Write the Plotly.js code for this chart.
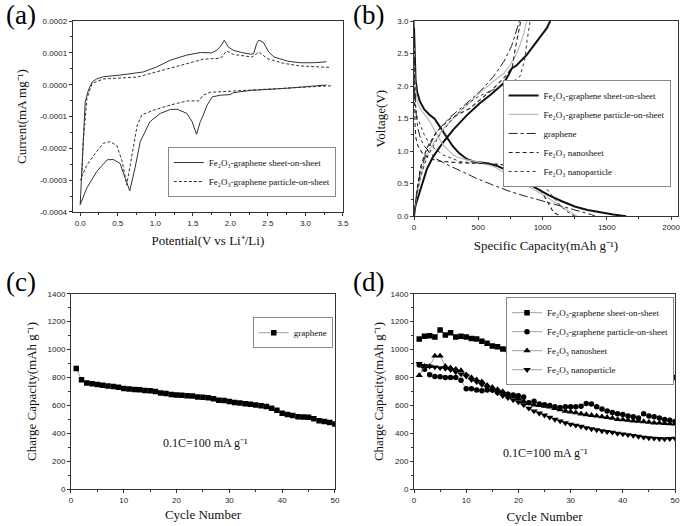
<!DOCTYPE html>
<html>
<head>
<meta charset="utf-8">
<script src="https://cdn.plot.ly/plotly-3.0.1.min.js"></script>
<style>html,body{margin:0;padding:0;background:#fff;overflow:hidden;}#chart{width:685px;height:526px;}</style>
</head>
<body>
<div id="chart"></div>
<script>
// ---------- Panel (a): cyclic voltammetry ----------
var sosUpV = [0, 0.03, 0.067, 0.11, 0.16, 0.22, 0.31, 0.53, 0.84, 1.02, 1.2, 1.42, 1.6, 1.75, 1.82, 1.88, 1.92, 1.97, 2.04, 2.15, 2.27, 2.31, 2.35, 2.38, 2.44, 2.51, 2.58, 2.76, 2.93, 3.11, 3.28];
var sosUpI = [-0.000377, -0.00022, -0.000054, -0.000017, 0.000009, 0.000018, 0.000025, 0.00003, 0.00004, 0.000056, 0.000077, 0.000093, 0.000101, 0.0001, 0.000108, 0.000124, 0.00014, 0.000119, 0.000108, 0.000101, 0.000096, 0.000097, 0.000129, 0.00014, 0.000133, 0.000103, 0.000087, 0.000074, 0.000069, 0.000069, 0.000072];
var sosDnV = [3.28, 2.71, 2.27, 2.04, 2.0, 1.87, 1.76, 1.69, 1.64, 1.6, 1.55, 1.49, 1.42, 1.29, 1.2, 1.07, 0.93, 0.8, 0.73, 0.66, 0.6, 0.53, 0.44, 0.36, 0.22, 0.09, 0];
var sosDnI = [-0.000001, -0.000012, -0.000018, -0.000025, -0.000031, -0.000033, -0.000038, -0.000064, -0.000095, -0.000116, -0.000156, -0.000116, -0.00009, -0.000077, -0.000078, -0.00009, -0.000116, -0.000179, -0.000262, -0.000334, -0.000294, -0.000247, -0.000235, -0.000236, -0.000273, -0.000324, -0.000377];
var posUpV = [0, 0.02, 0.04, 0.09, 0.16, 0.31, 0.76, 1.02, 1.33, 1.64, 1.87, 1.95, 2.04, 2.29, 2.38, 2.49, 2.71, 2.93, 3.34];
var posUpI = [-0.0003, -0.000294, -0.000179, -0.000043, 0.000004, 0.000018, 0.000024, 0.00004, 0.00006, 0.00008, 0.000083, 0.000106, 0.000095, 0.000087, 0.000103, 0.000082, 0.000067, 0.000059, 0.000054];
var posDnV = [3.34, 2.93, 2.49, 2.04, 1.73, 1.64, 1.58, 1.42, 1.2, 0.98, 0.82, 0.76, 0.69, 0.62, 0.56, 0.49, 0.4, 0.31, 0.22, 0.09, 0];
var posDnI = [-0.0000034, -0.0000075, -0.000014, -0.00002, -0.000024, -0.000033, -0.000051, -0.000051, -0.000064, -0.00008, -0.000095, -0.000127, -0.00022, -0.000315, -0.000242, -0.000192, -0.000179, -0.000184, -0.00021, -0.000252, -0.0003];
var aYTickVals = [-0.0004, -0.0003, -0.0002, -0.0001, 0, 0.0001, 0.0002];
var aYTickText = ['-0.0004', '-0.0003', '-0.0002', '-0.0001', '0.0000', '0.0001', '0.0002'];

// ---------- Panel (b): charge/discharge profiles ----------
var sosDisC = [0, 5, 12, 25, 47, 80, 120, 160, 202, 254, 300, 350, 410, 460, 520, 580, 650, 720, 800, 880, 960, 1050, 1150, 1250, 1350, 1450, 1550, 1620, 1650];
var sosDisU = [2.9, 2.5, 2.1, 1.9, 1.76, 1.64, 1.56, 1.5, 1.38, 1.22, 1.08, 0.97, 0.88, 0.84, 0.83, 0.81, 0.77, 0.71, 0.62, 0.51, 0.42, 0.32, 0.23, 0.15, 0.095, 0.055, 0.026, 0.008, 0];
var sosChgC = [0, 10, 25, 47, 70, 99, 150, 228, 306, 410, 514, 591, 695, 730, 760, 799, 877, 960, 1033, 1060];
var sosChgU = [0, 0.15, 0.25, 0.4, 0.55, 0.72, 0.92, 1.14, 1.33, 1.55, 1.74, 1.86, 2.04, 2.15, 2.27, 2.32, 2.48, 2.7, 2.89, 3.0];
var posDisC = [0, 5, 15, 30, 60, 125, 180, 228, 290, 332, 400, 488, 580, 643, 720, 800, 880, 960, 1050, 1150, 1220, 1270];
var posDisU = [2.6, 2.2, 1.9, 1.72, 1.62, 1.45, 1.25, 1.09, 0.97, 0.91, 0.87, 0.84, 0.79, 0.74, 0.64, 0.56, 0.47, 0.38, 0.27, 0.15, 0.06, 0];
var posChgC = [0, 20, 50, 80, 125, 228, 358, 488, 617, 700, 747, 800, 851, 877];
var posChgU = [0, 0.3, 0.6, 0.85, 1.04, 1.35, 1.6, 1.86, 2.07, 2.2, 2.32, 2.5, 2.78, 3.0];
var grDisC = [0, 3, 8, 15, 30, 50, 73, 120, 176, 250, 358, 488, 600, 747, 880, 1006, 1100, 1200, 1300, 1380, 1410];
var grDisU = [3.0, 2.5, 2.0, 1.6, 1.35, 1.2, 1.1, 0.98, 0.88, 0.8, 0.7, 0.58, 0.49, 0.38, 0.3, 0.23, 0.18, 0.13, 0.07, 0.025, 0];
var grChgC = [0, 20, 50, 100, 176, 280, 400, 520, 620, 700, 760, 800, 820];
var grChgU = [0, 0.35, 0.7, 1.0, 1.3, 1.52, 1.72, 1.93, 2.15, 2.38, 2.62, 2.85, 3.0];
var nsDisC = [0, 3, 8, 15, 31, 73, 176, 358, 550, 700, 800, 877, 930, 980, 1030, 1085, 1140];
var nsDisU = [2.4, 1.8, 1.4, 1.2, 1.08, 0.94, 0.85, 0.82, 0.81, 0.79, 0.73, 0.65, 0.55, 0.42, 0.25, 0.06, 0];
var nsChgC = [0, 20, 50, 100, 176, 280, 436, 617, 721, 765, 790, 815, 830];
var nsChgU = [0, 0.35, 0.75, 1.05, 1.3, 1.5, 1.66, 1.96, 2.17, 2.3, 2.6, 2.85, 3.0];
var npDisC = [0, 4, 10, 25, 47, 80, 125, 228, 358, 500, 650, 747, 850, 930, 980, 1030, 1100, 1170, 1230, 1260];
var npDisU = [2.0, 1.85, 1.7, 1.52, 1.4, 1.25, 1.09, 0.94, 0.84, 0.81, 0.8, 0.78, 0.72, 0.64, 0.55, 0.42, 0.25, 0.1, 0.02, 0];
var npChgC = [0, 20, 50, 100, 200, 300, 400, 500, 600, 700, 780, 825, 860, 880, 903];
var npChgU = [0, 0.3, 0.6, 0.9, 1.25, 1.5, 1.7, 1.84, 1.93, 2.02, 2.08, 2.15, 2.4, 2.7, 3.0];

// ---------- Panel (c) & (d): cycling ----------
var cycles = [1, 2, 3, 4, 5, 6, 7, 8, 9, 10, 11, 12, 13, 14, 15, 16, 17, 18, 19, 20, 21, 22, 23, 24, 25, 26, 27, 28, 29, 30, 31, 32, 33, 34, 35, 36, 37, 38, 39, 40, 41, 42, 43, 44, 45, 46, 47, 48, 49, 50];
var graphene = [865, 785, 760, 755, 750, 745, 740, 735, 730, 722, 718, 715, 712, 708, 705, 700, 690, 685, 678, 675, 673, 670, 668, 660, 658, 655, 648, 638, 635, 628, 622, 618, 612, 608, 603, 598, 593, 580, 565, 545, 535, 528, 520, 518, 515, 505, 490, 485, 478, 467];
var sheetOnSheet = [1075, 1095, 1100, 1090, 1140, 1105, 1120, 1090, 1095, 1090, 1080, 1075, 1060, 1045, 1025, 1020, 1005, 1000, 970, 945, 925, 895, 870, 850, 855, 848, 845, 845, 838, 832, 825, 835, 830, 825, 828, 825, 830, 828, 828, 830, 820, 805, 795, 800, 805, 808, 805, 840, 825, 800];
var particleOnSheet = [890, 860, 820, 808, 805, 800, 800, 800, 780, 720, 720, 710, 705, 710, 710, 695, 690, 680, 675, 670, 660, 620, 630, 610, 605, 600, 590, 585, 590, 590, 590, 595, 615, 610, 590, 575, 560, 550, 540, 535, 525, 520, 510, 540, 525, 520, 510, 500, 495, 485];
var nanosheet = [815, 880, 880, 955, 955, 880, 870, 860, 850, 820, 800, 785, 770, 745, 730, 715, 700, 680, 665, 650, 630, 615, 605, 600, 595, 590, 580, 570, 560, 555, 548, 540, 535, 530, 525, 520, 515, 510, 500, 498, 495, 490, 488, 485, 480, 475, 475, 472, 470, 468];
var nanoparticle = [900, 885, 880, 875, 870, 865, 855, 840, 825, 810, 785, 770, 750, 730, 710, 690, 670, 655, 640, 625, 605, 580, 560, 545, 530, 515, 500, 488, 475, 465, 458, 450, 440, 432, 425, 418, 412, 408, 400, 395, 390, 385, 378, 372, 368, 365, 362, 360, 362, 365];

var names = {
  sos: 'Fe₂O₃-graphene sheet-on-sheet',
  pos: 'Fe₂O₃-graphene particle-on-sheet',
  gr: 'graphene',
  ns: 'Fe₂O₃ nanosheet',
  np: 'Fe₂O₃ nanoparticle'
};

function join(a, b) { return a.concat([null], b); }

var traces = [];
// (a)
traces.push({x: join(sosUpV, sosDnV), y: join(sosUpI, sosDnI), xaxis: 'x', yaxis: 'y', mode: 'lines',
  line: {color: '#333', width: 1}, name: names.sos, legend: 'legend', connectgaps: false});
traces.push({x: join(posUpV, posDnV), y: join(posUpI, posDnI), xaxis: 'x', yaxis: 'y', mode: 'lines',
  line: {color: '#333', width: 1, dash: '3px,2px'}, name: names.pos, legend: 'legend', connectgaps: false});
// (b)
traces.push({x: join(sosDisC, sosChgC), y: join(sosDisU, sosChgU), xaxis: 'x2', yaxis: 'y2', mode: 'lines',
  line: {color: '#111', width: 2}, name: names.sos, legend: 'legend2', connectgaps: false});
traces.push({x: join(posDisC, posChgC), y: join(posDisU, posChgU), xaxis: 'x2', yaxis: 'y2', mode: 'lines',
  line: {color: '#bbb', width: 1.2}, name: names.pos, legend: 'legend2', connectgaps: false});
traces.push({x: join(grDisC, grChgC), y: join(grDisU, grChgU), xaxis: 'x2', yaxis: 'y2', mode: 'lines',
  line: {color: '#222', width: 1, dash: 'dashdot'}, name: names.gr, legend: 'legend2', connectgaps: false});
traces.push({x: join(nsDisC, nsChgC), y: join(nsDisU, nsChgU), xaxis: 'x2', yaxis: 'y2', mode: 'lines',
  line: {color: '#222', width: 1.1, dash: '4px,3px'}, name: names.ns, legend: 'legend2', connectgaps: false});
traces.push({x: join(npDisC, npChgC), y: join(npDisU, npChgU), xaxis: 'x2', yaxis: 'y2', mode: 'lines',
  line: {color: '#333', width: 1, dash: 'dot'}, name: names.np, legend: 'legend2', connectgaps: false});
// (c)
traces.push({x: cycles, y: graphene, xaxis: 'x3', yaxis: 'y3', mode: 'lines+markers',
  line: {color: '#888', width: 0.8}, marker: {symbol: 'square', size: 5.5, color: '#000'}, name: names.gr, legend: 'legend3'});
// (d)
var dSeries = [[sheetOnSheet, 'square', names.sos, 5.5], [particleOnSheet, 'circle', names.pos, 5.5],
  [nanosheet, 'triangle-up', names.ns, 6.5], [nanoparticle, 'triangle-down', names.np, 6.5]];
dSeries.forEach(function (s) {
  traces.push({x: cycles, y: s[0], xaxis: 'x4', yaxis: 'y4', mode: 'lines+markers',
    line: {color: '#888', width: 0.8}, marker: {symbol: s[1], size: s[3], color: '#000'}, name: s[2], legend: 'legend4'});
});

var tickFont = {family: 'Liberation Sans, Arial, sans-serif', size: 8, color: '#222'};
var titleFont = {family: 'Liberation Serif, Times New Roman, serif', size: 13, color: '#111'};
var legFont = {family: 'Liberation Serif, Times New Roman, serif', size: 9, color: '#111'};

function axis(opts) {
  var a = {
    domain: opts.domain, range: opts.range, anchor: opts.anchor, dtick: opts.dtick, tick0: 0,
    tickformat: opts.fmt, showgrid: false, zeroline: false, showline: true, mirror: true,
    linecolor: '#333', linewidth: 1, ticks: 'outside', ticklen: 3, tickcolor: '#333', tickwidth: 1,
    tickfont: tickFont, automargin: false, fixedrange: true,
    minor: {ticks: 'outside', ticklen: 2, dtick: opts.minor, tickcolor: '#333', showgrid: false},
    title: {text: opts.title, font: titleFont, standoff: opts.standoff}
  };
  if (opts.tickvals) { a.tickmode = 'array'; a.tickvals = opts.tickvals; a.ticktext = opts.ticktext; }
  return a;
}

var legBase = {bgcolor: '#fff', bordercolor: '#888', borderwidth: 1, font: legFont, yanchor: 'top', itemwidth: 30, tracegroupgap: 0};
function leg(x, y, xanchor) { var o = {}; for (var k in legBase) o[k] = legBase[k]; o.x = x; o.y = y; o.xanchor = xanchor; return o; }

var labelFont = {family: 'Liberation Serif, Times New Roman, serif', size: 27, color: '#000'};
var noteFont = {family: 'Liberation Serif, Times New Roman, serif', size: 12, color: '#111'};

var layout = {
  width: 685, height: 526, margin: {l: 0, r: 0, t: 0, b: 0, autoexpand: false}, paper_bgcolor: '#fff', plot_bgcolor: '#fff',
  showlegend: true,
  xaxis: axis({domain: [0.1061, 0.5007], range: [-0.1, 3.5], anchor: 'y', dtick: 0.5, minor: 0.25, fmt: '.1f', title: 'Potential(V vs Li⁺/Li)', standoff: 9}),
  yaxis: axis({domain: [0.597, 0.960], range: [-0.0004, 0.0002], anchor: 'x', dtick: 0.0001, minor: 0.00005, title: 'Current(mA mg⁻¹)', standoff: 10, tickvals: aYTickVals, ticktext: aYTickText}),
  xaxis2: axis({domain: [0.6044, 0.9898], range: [0, 2054], anchor: 'y2', dtick: 500, minor: 250, fmt: 'd', title: 'Specific Capacity(mAh g⁻¹)', standoff: 10}),
  yaxis2: axis({domain: [0.589, 0.960], range: [0, 3], anchor: 'x2', dtick: 0.5, minor: 0.25, fmt: '.1f', title: 'Voltage(V)', standoff: 8}),
  xaxis3: axis({domain: [0.1036, 0.489], range: [0, 50], anchor: 'y3', dtick: 10, minor: 5, fmt: 'd', title: 'Cycle Number', standoff: 6}),
  yaxis3: axis({domain: [0.0698, 0.4416], range: [0, 1400], anchor: 'x3', dtick: 200, minor: 100, fmt: 'd', title: 'Charge Capacity(mAh g⁻¹)', standoff: 8}),
  xaxis4: axis({domain: [0.6044, 0.9854], range: [0, 50], anchor: 'y4', dtick: 10, minor: 5, fmt: 'd', title: 'Cycle Number', standoff: 8}),
  yaxis4: axis({domain: [0.0698, 0.4416], range: [0, 1400], anchor: 'x4', dtick: 200, minor: 100, fmt: 'd', title: 'Charge Capacity(mAh g⁻¹)', standoff: 4}),
  legend: leg(0.245, 0.7205, 'left'),
  legend2: leg(0.979, 0.848, 'right'),
  legend3: leg(0.369, 0.397, 'left'),
  legend4: leg(0.984, 0.435, 'right'),
  annotations: [
    {text: '(a)', x: 20.5 / 685, y: 1 - 15 / 526, xref: 'paper', yref: 'paper', showarrow: false, font: labelFont, xanchor: 'center', yanchor: 'middle'},
    {text: '(b)', x: 368 / 685, y: 1 - 15 / 526, xref: 'paper', yref: 'paper', showarrow: false, font: labelFont, xanchor: 'center', yanchor: 'middle'},
    {text: '(c)', x: 20.5 / 685, y: 1 - 282 / 526, xref: 'paper', yref: 'paper', showarrow: false, font: labelFont, xanchor: 'center', yanchor: 'middle'},
    {text: '(d)', x: 368 / 685, y: 1 - 282 / 526, xref: 'paper', yref: 'paper', showarrow: false, font: labelFont, xanchor: 'center', yanchor: 'middle'},
    {text: '0.1C=100 mA g⁻¹', x: 205 / 685, y: 1 - 443 / 526, xref: 'paper', yref: 'paper', showarrow: false, font: noteFont, xanchor: 'center', yanchor: 'middle'},
    {text: '0.1C=100 mA g⁻¹', x: 545 / 685, y: 1 - 453 / 526, xref: 'paper', yref: 'paper', showarrow: false, font: noteFont, xanchor: 'center', yanchor: 'middle'}
  ]
};

Plotly.newPlot('chart', traces, layout, {staticPlot: true, displayModeBar: false});
</script>
</body>
</html>
